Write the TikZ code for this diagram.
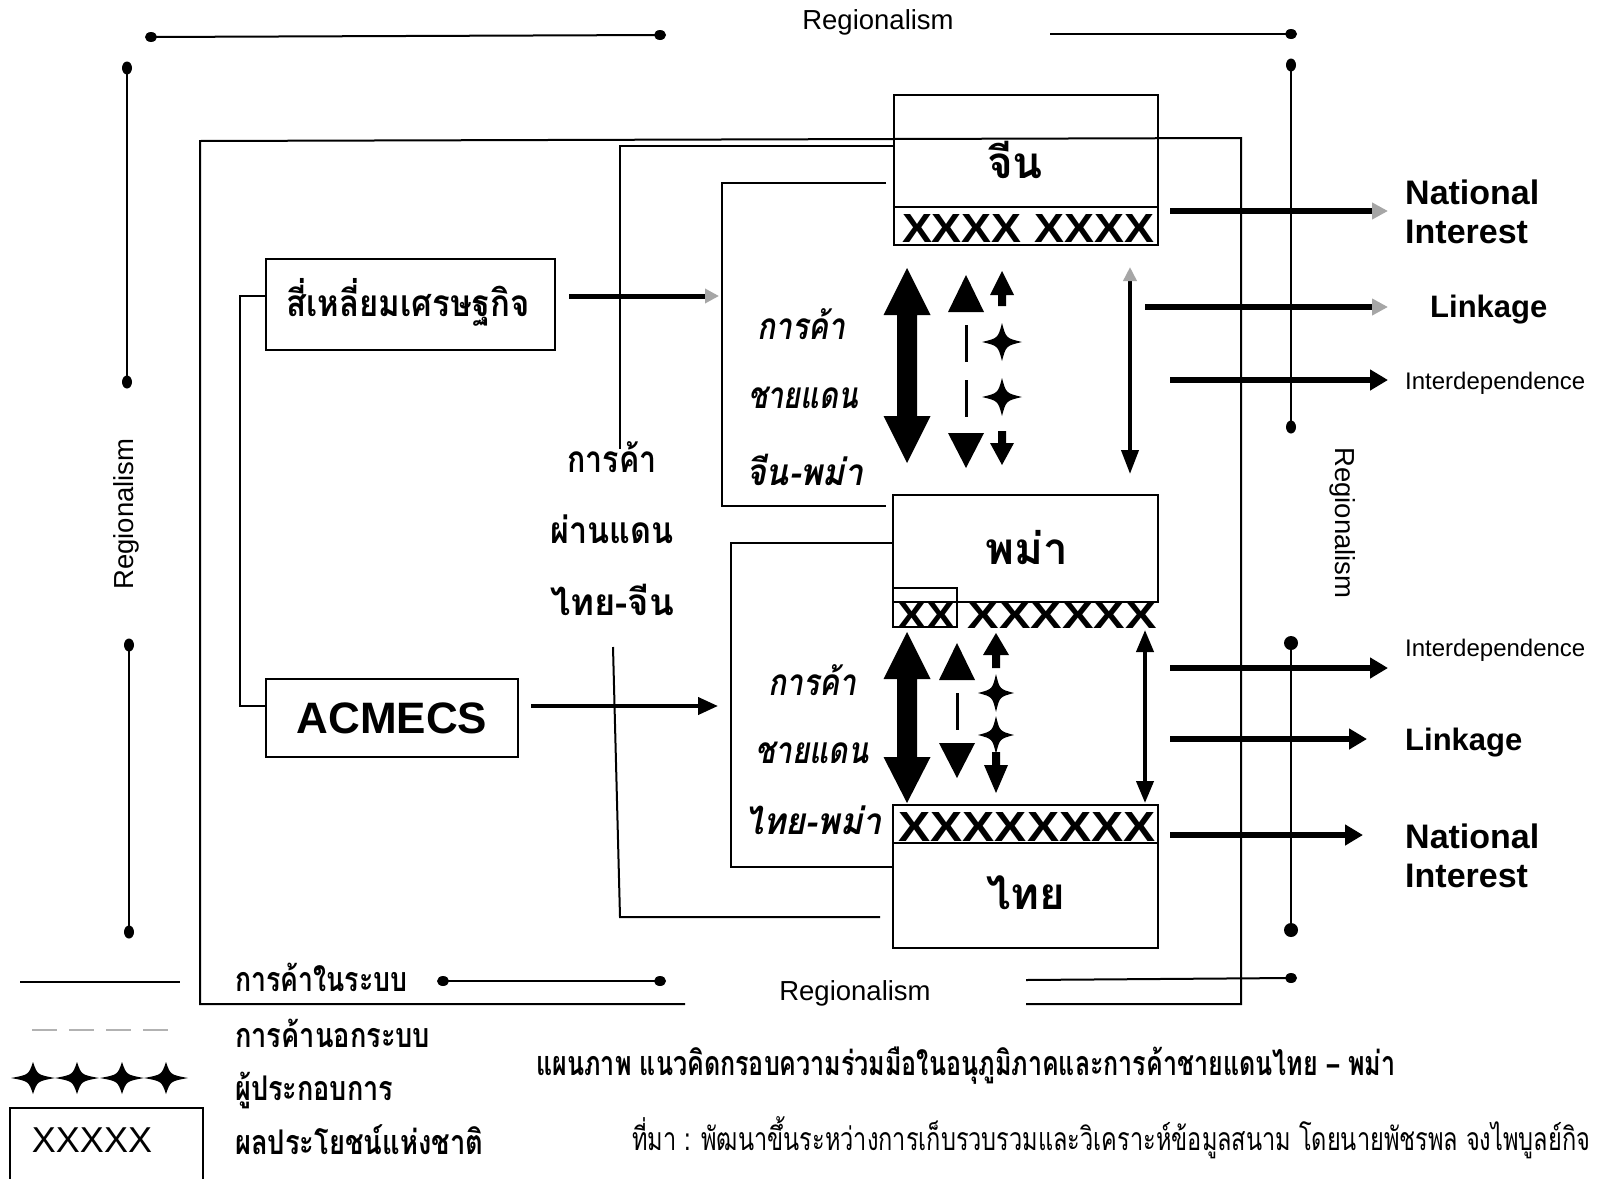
\documentclass[tikz,border=0pt]{standalone}
\usepackage{fontspec}
\setmainfont{Liberation Sans}
\newfontfamily\thaif[Script=Thai]{Loma}
\usetikzlibrary{arrows.meta}
\newcommand\fitw[2]{\resizebox{#1}{\height}{#2}}
\tikzset{
  ln/.style={line width=2pt},
  boxl/.style={line width=2.2pt},
  box/.style={draw, line width=2.2pt, inner sep=0pt},
  reglbl/.style={font=\fontsize{27.5}{30}\selectfont, inner sep=0pt},
  thl/.style={font=\thaif\bfseries\fontsize{37}{40}\selectfont, inner sep=0pt},
  thi/.style={font=\thaif\bfseries\itshape\fontsize{37}{40}\selectfont, inner sep=0pt},
  thc/.style={font=\thaif\bfseries\fontsize{44}{48}\selectfont, inner sep=0pt},
  thleg/.style={font=\thaif\bfseries\fontsize{34}{38}\selectfont, inner sep=0pt, anchor=west},
  xs/.style={font=\bfseries\fontsize{32}{34}\selectfont, inner sep=0pt},
  engb/.style={font=\bfseries\fontsize{34}{38}\selectfont, inner sep=0pt, anchor=west},
  engl/.style={font=\bfseries\fontsize{31}{34}\selectfont, inner sep=0pt, anchor=west},
  engs/.style={font=\fontsize{24}{28}\selectfont, inner sep=0pt, anchor=west},
  fatarrow/.style={line width=6pt},
  pics/spark/.style={code={\fill (0,-1) .. controls (0.2,-0.2) .. (1,0) .. controls (0.2,0.2) .. (0,1) .. controls (-0.2,0.2) .. (-1,0) .. controls (-0.2,-0.2) .. (0,-1) -- cycle;}},
}
\begin{document}
\begin{tikzpicture}[x=1pt,y=-1pt]
\useasboundingbox[fill=white] (0,0) rectangle (1598,1178);

% ---------- Regionalism dotted lines ----------
\coordinate (t1) at (151,37); \coordinate (t2) at (660,35);
\draw[ln] (t1) -- (t2); \fill (t1) ellipse (6pt and 5pt); \fill (t2) ellipse (6pt and 5pt);
\coordinate (t3) at (1050,34); \coordinate (t4) at (1291,34);
\draw[ln] (t3) -- (t4); \fill (t4) ellipse (6pt and 5pt);
\coordinate (r1) at (1291,65); \coordinate (r2) at (1291,427);
\draw[ln] (r1) -- (r2); \fill (r1) ellipse (5pt and 6.5pt); \fill (r2) ellipse (5pt and 6.5pt);
\coordinate (r3) at (1291,643); \coordinate (r4) at (1291,930);
\draw[ln] (r3) -- (r4); \fill (r3) circle (7pt); \fill (r4) circle (7pt);
\coordinate (b1) at (1026,980); \coordinate (b2) at (1291,978);
\draw[ln] (b1) -- (b2); \fill (b2) ellipse (6pt and 5pt);
\coordinate (b3) at (443,981); \coordinate (b4) at (660,981);
\draw[ln] (b3) -- (b4); \fill (b3) ellipse (6pt and 5pt); \fill (b4) ellipse (6pt and 5pt);
\coordinate (l1) at (127,68); \coordinate (l2) at (127,382);
\draw[ln] (l1) -- (l2); \fill (l1) ellipse (5pt and 6.5pt); \fill (l2) ellipse (5pt and 6.5pt);
\coordinate (l3) at (129,645); \coordinate (l4) at (129,932);
\draw[ln] (l3) -- (l4); \fill (l3) ellipse (5pt and 6.5pt); \fill (l4) ellipse (5pt and 6.5pt);

\node[reglbl] (rtop) at (878,22) {Regionalism};
\node[reglbl] (rbot) at (855,993) {Regionalism};
\node[reglbl, rotate=90] (rleft) at (126,514) {Regionalism};
\node[reglbl, rotate=-90] (rright) at (1343,523) {Regionalism};

% ---------- frames ----------
\draw[ln] (685,1004) -- (200,1004) -- (200,141) -- (1241,138) -- (1241,1004) -- (1026,1004);
\draw[ln] (893,146) -- (620,146) -- (620,449);
\draw[ln] (613,647) -- (620,917) -- (880,917);
\draw[ln] (886,183) -- (722,183) -- (722,506) -- (886,506);
\draw[ln] (893,543) -- (731,543) -- (731,867) -- (893,867);
\draw[ln] (266,296) -- (240,296) -- (240,706) -- (266,706);

% ---------- left boxes ----------
\node[box, minimum width=289pt, minimum height=91pt] (sq) at (410.5,304.5) {};
\node[thl] (sqt) at (408,302) {\fitw{243pt}{สี่เหลี่ยมเศรษฐกิจ}};
\node[box, minimum width=252pt, minimum height=78pt, font=\bfseries\fontsize{44}{48}\selectfont] (acm) at (392,718) {ACMECS};

\draw[line width=5pt, -{Triangle[length=14pt,width=14pt,color=gray!70]}] (569,296) -- (719,296);
\draw[line width=4pt, -{Triangle[length=20pt,width=17pt]}] (531,706) -- (718,706);

% ---------- middle labels ----------
\node[thl] (m1) at (612,457) {\fitw{89pt}{การค้า}};
\node[thl] (m2) at (612,529) {\fitw{123pt}{ผ่านแดน}};
\node[thl] (m3) at (612,600) {\fitw{124pt}{ไทย-จีน}};

\node[thi] (a1) at (801,324) {\fitw{88pt}{การค้า}};
\node[thi] (a2) at (803,398) {\fitw{110pt}{ชายแดน}};
\node[thi] (a3) at (805,470) {\fitw{118pt}{จีน-พม่า}};

\node[thi] (c1) at (812,680) {\fitw{88pt}{การค้า}};
\node[thi] (c2) at (812,753) {\fitw{113pt}{ชายแดน}};
\node[thi] (c3) at (813,820) {\fitw{138pt}{ไทย-พม่า}};

% ---------- country boxes ----------
\node[box, minimum width=264pt, minimum height=150pt] (china) at (1026,170) {};
\node[thc] (chinat) at (1015,160) {จีน};
\draw[boxl] (china.west |- 0,207) -- (china.east |- 0,207);
\node[xs, anchor=base] (chinax) at (1028,242) {\resizebox{252pt}{28pt}{XXXX XXXX}};

\node[box, minimum width=265pt, minimum height=107pt] (burma) at (1025.5,548.5) {};
\node[thc] (burmat) at (1027,548) {พม่า};
\draw[ln] (893,588) rectangle (957,627);
\node[xs, anchor=base] (burmax1) at (926,628) {\resizebox{58pt}{26pt}{XX}};
\node[xs, anchor=base] (burmax2) at (1062,628) {\resizebox{189pt}{26pt}{XXXXXX}};

\node[box, minimum width=265pt, minimum height=143pt] (thai) at (1025.5,876.5) {};
\draw[boxl] (thai.west |- 0,843) -- (thai.east |- 0,843);
\node[xs, anchor=base] (thaix) at (1027,841) {\resizebox{257pt}{29pt}{XXXXXXXX}};
\node[thc] (thait) at (1026,893) {ไทย};

% ---------- upper arrows (China - Burma) ----------
\fill (907,268) -- (930.5,315) -- (917,315) -- (917,416) -- (930.5,416) -- (907,463) -- (883.5,416) -- (897,416) -- (897,315) -- (883.5,315) -- cycle;
\fill (966,275) -- (984,312) -- (948,312) -- cycle;
\draw[line width=3pt] (966,325) -- (966,362) (966,380) -- (966,417);
\fill (948,433) -- (984,433) -- (966,468) -- cycle;
\fill (1002,271) -- (1014,295) -- (1006,295) -- (1006,306) -- (998,306) -- (998,295) -- (990,295) -- cycle;
\pic[xscale=20,yscale=19] at (1002,342) {spark};
\pic[xscale=20,yscale=19] at (1002,397) {spark};
\fill (998,431) -- (1006,431) -- (1006,443) -- (1014,443) -- (1002,465) -- (990,443) -- (998,443) -- cycle;
\draw[line width=4pt, {Triangle[length=14pt,width=13pt,color=gray!70]}-{Triangle[length=24pt,width=17pt]}] (1130,267) -- (1130,474);

% ---------- lower arrows (Burma - Thailand) ----------
\fill (907,632) -- (930.5,679) -- (917,679) -- (917,757) -- (930.5,757) -- (907,803) -- (883.5,757) -- (897,757) -- (897,679) -- (883.5,679) -- cycle;
\fill (957,643) -- (975,680) -- (939,680) -- cycle;
\draw[line width=3pt] (957,693) -- (957,730);
\fill (939,743) -- (975,743) -- (957,778) -- cycle;
\fill (996,633) -- (1009,655) -- (1000,655) -- (1000,668) -- (992,668) -- (992,655) -- (983,655) -- cycle;
\pic[xscale=18,yscale=19] at (996,693) {spark};
\pic[xscale=18,yscale=19] at (996,735) {spark};
\fill (992,752) -- (1000,752) -- (1000,765) -- (1008,765) -- (996,793) -- (984,765) -- (992,765) -- cycle;
\draw[line width=4pt, {Triangle[length=22pt,width=17pt]}-{Triangle[length=22pt,width=17pt]}] (1145,630) -- (1145,803);

% ---------- right arrows ----------
\draw[fatarrow, -{Triangle[length=16pt,width=16pt,color=gray!70]}] (1170,211) -- (1388,211);
\draw[fatarrow, -{Triangle[length=16pt,width=16pt,color=gray!70]}] (1145,307) -- (1388,307);
\draw[fatarrow, -{Triangle[length=18pt,width=20pt]}] (1170,380) -- (1388,380);
\draw[fatarrow, -{Triangle[length=18pt,width=20pt]}] (1170,668) -- (1388,668);
\draw[fatarrow, -{Triangle[length=18pt,width=20pt]}] (1170,739) -- (1367,739);
\draw[fatarrow, -{Triangle[length=18pt,width=20pt]}] (1170,835) -- (1363,835);

\node[engb] (ni1a) at (1405,192) {National};
\node[engb] (ni1b) at (1405,232) {Interest};
\node[engl] (lk1) at (1430,310) {Linkage};
\node[engs] (id1) at (1405,383) {Interdependence};
\node[engs] (id2) at (1405,650) {Interdependence};
\node[engl] (lk2) at (1405,743) {Linkage};
\node[engb] (ni2a) at (1405,836) {National};
\node[engb] (ni2b) at (1405,876) {Interest};

% ---------- legend ----------
\draw[ln] (20,982) -- (180,982);
\draw[line width=2.4pt, gray!60, dash pattern=on 25pt off 12pt] (32,1030) -- (172,1030);
\foreach \sx in {33,77,122,166} \pic[xscale=22,yscale=16] at (\sx,1078) {spark};
\draw[ln] (10,1180) -- (10,1108) -- (203,1108) -- (203,1180);
\node[font=\fontsize{36}{40}\selectfont, inner sep=0pt] (legx) at (92,1140) {XXXXX};
\node[thleg] (lg1) at (235,977) {\fitw{172pt}{การค้าในระบบ}};
\node[thleg] (lg2) at (235,1033) {\fitw{195pt}{การค้านอกระบบ}};
\node[thleg] (lg3) at (235,1090) {\fitw{158pt}{ผู้ประกอบการ}};
\node[thleg] (lg4) at (235,1140) {\fitw{248pt}{ผลประโยชน์แห่งชาติ}};

% ---------- caption ----------
\node[font=\thaif\bfseries\fontsize{34}{38}\selectfont, inner sep=0pt] (cap) at (966,1066) {\fitw{859pt}{แผนภาพ แนวคิดกรอบความร่วมมือในอนุภูมิภาคและการค้าชายแดนไทย {\rmfamily –}  พม่า}};
\node[font=\thaif\fontsize{32}{36}\selectfont, inner sep=0pt] (src) at (1111,1138) {\fitw{958pt}{ที่มา : พัฒนาขึ้นระหว่างการเก็บรวบรวมและวิเคราะห์ข้อมูลสนาม โดยนายพัชรพล จงไพบูลย์กิจ}};
\end{tikzpicture}
\end{document}
